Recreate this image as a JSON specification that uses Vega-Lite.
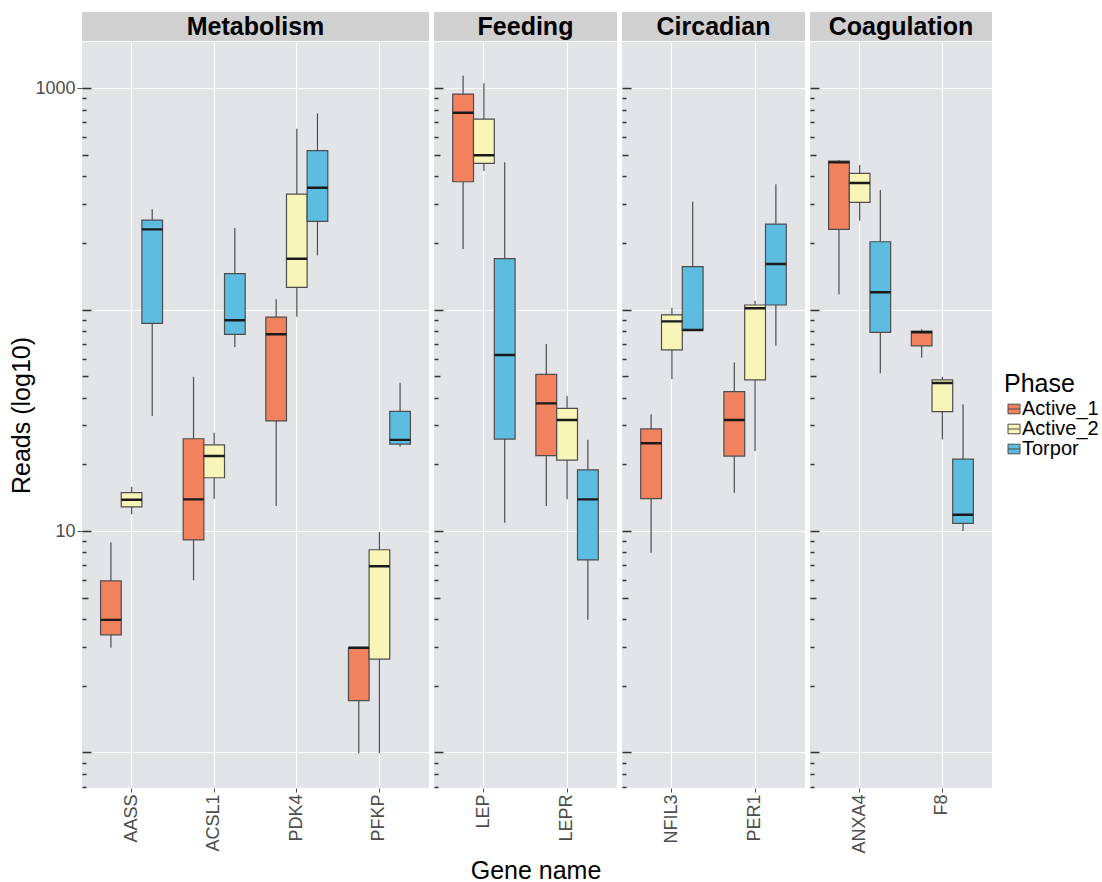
{
  "$schema": "https://vega.github.io/schema/vega-lite/v6.json",
  "autosize": {"type": "pad"},
  "padding": {"left": 9, "top": 12, "right": 0, "bottom": 0},
  "background": "white",
  "datasets": {
    "strips": [
      {"Category": "Metabolism"},
      {"Category": "Feeding"},
      {"Category": "Circadian"},
      {"Category": "Coagulation"}
    ],
    "boxes": [
      {"Category": "Metabolism", "Gene": "AASS", "Phase": "Active_1", "lo": 2.97, "q1": 3.4, "med": 3.97, "q3": 5.95, "hi": 8.89},
      {"Category": "Metabolism", "Gene": "AASS", "Phase": "Active_2", "lo": 11.9, "q1": 12.84, "med": 13.85, "q3": 14.89, "hi": 15.85},
      {"Category": "Metabolism", "Gene": "AASS", "Phase": "Torpor", "lo": 33.05, "q1": 86.6, "med": 230.2, "q3": 253.5, "hi": 283.5},
      {"Category": "Metabolism", "Gene": "ACSL1", "Phase": "Active_1", "lo": 5.99, "q1": 9.11, "med": 13.9, "q3": 26.1, "hi": 49.7},
      {"Category": "Metabolism", "Gene": "ACSL1", "Phase": "Active_2", "lo": 13.95, "q1": 17.4, "med": 21.8, "q3": 24.5, "hi": 27.8},
      {"Category": "Metabolism", "Gene": "ACSL1", "Phase": "Torpor", "lo": 67.7, "q1": 77.3, "med": 89.4, "q3": 145.1, "hi": 233.3},
      {"Category": "Metabolism", "Gene": "PDK4", "Phase": "Active_1", "lo": 12.97, "q1": 31.4, "med": 77.3, "q3": 92.5, "hi": 111.2},
      {"Category": "Metabolism", "Gene": "PDK4", "Phase": "Active_2", "lo": 92.8, "q1": 126, "med": 169.6, "q3": 332.2, "hi": 655.1},
      {"Category": "Metabolism", "Gene": "PDK4", "Phase": "Torpor", "lo": 175.7, "q1": 250.2, "med": 354.7, "q3": 521.2, "hi": 768.7},
      {"Category": "Metabolism", "Gene": "PFKP", "Phase": "Active_1", "lo": 0.992, "q1": 1.714, "med": 2.97, "q3": 2.97, "hi": 2.97},
      {"Category": "Metabolism", "Gene": "PFKP", "Phase": "Active_2", "lo": 0.992, "q1": 2.64, "med": 6.93, "q3": 8.23, "hi": 9.9},
      {"Category": "Metabolism", "Gene": "PFKP", "Phase": "Torpor", "lo": 24.0, "q1": 24.7, "med": 25.8, "q3": 34.7, "hi": 46.7},
      {"Category": "Feeding", "Gene": "LEP", "Phase": "Active_1", "lo": 187.6, "q1": 377.6, "med": 773.5, "q3": 939.5, "hi": 1136.7},
      {"Category": "Feeding", "Gene": "LEP", "Phase": "Active_2", "lo": 421.9, "q1": 457.1, "med": 496.9, "q3": 724.4, "hi": 1050},
      {"Category": "Feeding", "Gene": "LEP", "Phase": "Torpor", "lo": 10.9, "q1": 26.0, "med": 62.3, "q3": 169.6, "hi": 461.9},
      {"Category": "Feeding", "Gene": "LEPR", "Phase": "Active_1", "lo": 12.97, "q1": 21.9, "med": 37.7, "q3": 51.0, "hi": 69.9},
      {"Category": "Feeding", "Gene": "LEPR", "Phase": "Active_2", "lo": 13.9, "q1": 20.9, "med": 31.7, "q3": 35.8, "hi": 40.7},
      {"Category": "Feeding", "Gene": "LEPR", "Phase": "Torpor", "lo": 3.97, "q1": 7.4, "med": 13.9, "q3": 18.9, "hi": 25.8},
      {"Category": "Circadian", "Gene": "NFIL3", "Phase": "Active_1", "lo": 7.98, "q1": 13.99, "med": 24.9, "q3": 28.9, "hi": 33.7},
      {"Category": "Circadian", "Gene": "NFIL3", "Phase": "Active_2", "lo": 48.6, "q1": 65.7, "med": 88.4, "q3": 94.5, "hi": 101.9},
      {"Category": "Circadian", "Gene": "NFIL3", "Phase": "Torpor", "lo": 80.8, "q1": 80.8, "med": 80.8, "q3": 156.1, "hi": 306.7},
      {"Category": "Circadian", "Gene": "PER1", "Phase": "Active_1", "lo": 14.9, "q1": 21.8, "med": 31.7, "q3": 42.6, "hi": 57.7},
      {"Category": "Circadian", "Gene": "PER1", "Phase": "Active_2", "lo": 23.0, "q1": 48.1, "med": 101.3, "q3": 104.8, "hi": 109.6},
      {"Category": "Circadian", "Gene": "PER1", "Phase": "Torpor", "lo": 68.6, "q1": 104.8, "med": 160.5, "q3": 243.2, "hi": 367.4},
      {"Category": "Coagulation", "Gene": "ANXA4", "Phase": "Active_1", "lo": 117.1, "q1": 230.2, "med": 461.9, "q3": 468.1, "hi": 473},
      {"Category": "Coagulation", "Gene": "ANXA4", "Phase": "Active_2", "lo": 251.7, "q1": 304.8, "med": 372.5, "q3": 412, "hi": 449.1},
      {"Category": "Coagulation", "Gene": "ANXA4", "Phase": "Torpor", "lo": 51.5, "q1": 78.9, "med": 119.6, "q3": 202.3, "hi": 346.4},
      {"Category": "Coagulation", "Gene": "F8", "Phase": "Active_1", "lo": 60.6, "q1": 68.6, "med": 78.9, "q3": 80.0, "hi": 81.4},
      {"Category": "Coagulation", "Gene": "F8", "Phase": "Active_2", "lo": 25.9, "q1": 34.6, "med": 46.6, "q3": 48.1, "hi": 49.7},
      {"Category": "Coagulation", "Gene": "F8", "Phase": "Torpor", "lo": 10.0, "q1": 10.83, "med": 11.85, "q3": 21.1, "hi": 37.4}
    ]
  },
  "title": {"text": "Gene name", "orient": "bottom", "anchor": "middle", "frame": "group", "fontSize": 25, "fontWeight": "normal", "color": "black", "offset": 6, "dx": 454},
  "spacing": 4,
  "resolve": {"scale": {"xOffset": "independent"}},
  "hconcat": [
    {
      "vconcat": [
        {"width": 347, "height": 29, "data": {"name": "strips"}, "transform": [{"filter": "datum.Category == 'Metabolism'"}], "view": {"fill": "#D0D0D0", "stroke": null}, "mark": {"type": "text", "fontSize": 25, "fontWeight": "bold", "color": "black"}, "encoding": {"text": {"field": "Category", "type": "nominal"}}},
        {
          "width": 347, "height": 746,
          "data": {"name": "boxes"},
          "transform": [{"filter": "datum.Category == 'Metabolism'"}],
          "view": {"fill": "#E3E4E8", "stroke": null},
          "encoding": {
            "x": {"field": "Gene", "type": "nominal", "title": null, "scale": {"paddingInner": 0, "paddingOuter": 0.1}, "axis": {"labelAngle": 270, "labelFontSize": 18, "labelColor": "#4D4D4D", "labelPadding": 2, "tickColor": "#4D4D4D", "tickSize": 4, "domain": false, "grid": true, "gridColor": "white", "gridWidth": 1.2, "bandPosition": 0.5}},
            "xOffset": {"field": "Phase", "type": "nominal", "scale": {"paddingInner": 0, "paddingOuter": 0.5}}
          },
          "layer": [
            {"mark": {"type": "rule", "color": "#4D4D4D", "strokeWidth": 1.2}, "encoding": {"y": {"field": "lo", "type": "quantitative", "scale": {"type": "log", "domain": [0.6913, 1614], "nice": false}, "axis": {"orient": "left", "values": [1, 10, 100, 1000], "title": "Reads (log10)", "titleFontSize": 25, "titleFontWeight": "normal", "titleColor": "black", "titlePadding": 0, "labelExpr": "datum.value == 10 ? '10' : datum.value == 1000 ? '1000' : ''", "labelFontSize": 18, "labelColor": "#4D4D4D", "labelPadding": 2, "tickSize": 5, "tickColor": {"condition": {"test": "datum.value == 10 || datum.value == 1000", "value": "#555555"}, "value": "transparent"}, "domain": false, "grid": true, "gridColor": "white", "gridWidth": 1.2}}, "y2": {"field": "q1"}}},
            {"mark": {"type": "rule", "color": "#4D4D4D", "strokeWidth": 1.2}, "encoding": {"y": {"field": "q3", "type": "quantitative", "axis": {"orient": "left", "values": [1, 10, 100, 1000], "title": null, "labels": false, "domain": false, "grid": false, "tickSize": -9, "tickColor": "#333333", "tickWidth": 1.5}}, "y2": {"field": "hi"}}},
            {"mark": {"type": "bar", "stroke": "#4D4D4D", "strokeWidth": 1.2}, "encoding": {"y": {"field": "q1", "type": "quantitative", "axis": {"orient": "left", "values": [5, 50, 500], "title": null, "labels": false, "domain": false, "grid": false, "tickSize": -6, "tickColor": "#333333", "tickWidth": 1.5}}, "y2": {"field": "q3"}, "color": {"field": "Phase", "type": "nominal", "title": "Phase", "scale": {"domain": ["Active_1", "Active_2", "Torpor"], "range": ["#F2825E", "#F7F5B7", "#5CBDE0"]}}}},
            {"mark": {"type": "bar", "fill": "transparent", "stroke": "#1A1A1A", "strokeWidth": 2.4}, "encoding": {"y": {"field": "med", "type": "quantitative", "axis": {"orient": "left", "values": [0.7, 0.8, 0.9, 2, 3, 4, 6, 7, 8, 9, 20, 30, 40, 60, 70, 80, 90, 200, 300, 400, 600, 700, 800, 900], "title": null, "labels": false, "domain": false, "grid": false, "tickSize": -4, "tickColor": "#333333", "tickWidth": 1.5}}, "y2": {"field": "med"}}}
          ],
          "resolve": {"axis": {"y": "independent"}}
        }
      ],
      "spacing": 1, "bounds": "flush", "resolve": {"scale": {"xOffset": "independent"}}
    },
    {
      "vconcat": [
        {"width": 183, "height": 29, "data": {"name": "strips"}, "transform": [{"filter": "datum.Category == 'Feeding'"}], "view": {"fill": "#D0D0D0", "stroke": null}, "mark": {"type": "text", "fontSize": 25, "fontWeight": "bold", "color": "black"}, "encoding": {"text": {"field": "Category", "type": "nominal"}}},
        {
          "width": 183, "height": 746,
          "data": {"name": "boxes"},
          "transform": [{"filter": "datum.Category == 'Feeding'"}],
          "view": {"fill": "#E3E4E8", "stroke": null},
          "encoding": {
            "x": {"field": "Gene", "type": "nominal", "title": null, "scale": {"paddingInner": 0, "paddingOuter": 0.1}, "axis": {"labelAngle": 270, "labelFontSize": 18, "labelColor": "#4D4D4D", "labelPadding": 2, "tickColor": "#4D4D4D", "tickSize": 4, "domain": false, "grid": true, "gridColor": "white", "gridWidth": 1.2, "bandPosition": 0.5}},
            "xOffset": {"field": "Phase", "type": "nominal", "scale": {"paddingInner": 0, "paddingOuter": 0.5}}
          },
          "layer": [
            {"mark": {"type": "rule", "color": "#4D4D4D", "strokeWidth": 1.2}, "encoding": {"y": {"field": "lo", "type": "quantitative", "scale": {"type": "log", "domain": [0.6913, 1614], "nice": false}, "axis": {"orient": "left", "values": [1, 10, 100, 1000], "title": null, "labels": false, "ticks": false, "domain": false, "grid": true, "gridColor": "white", "gridWidth": 1.2}}, "y2": {"field": "q1"}}},
            {"mark": {"type": "rule", "color": "#4D4D4D", "strokeWidth": 1.2}, "encoding": {"y": {"field": "q3", "type": "quantitative", "axis": {"orient": "left", "values": [1, 10, 100, 1000], "title": null, "labels": false, "domain": false, "grid": false, "tickSize": -9, "tickColor": "#333333", "tickWidth": 1.5}}, "y2": {"field": "hi"}}},
            {"mark": {"type": "bar", "stroke": "#4D4D4D", "strokeWidth": 1.2}, "encoding": {"y": {"field": "q1", "type": "quantitative", "axis": {"orient": "left", "values": [5, 50, 500], "title": null, "labels": false, "domain": false, "grid": false, "tickSize": -6, "tickColor": "#333333", "tickWidth": 1.5}}, "y2": {"field": "q3"}, "color": {"field": "Phase", "type": "nominal", "title": "Phase", "scale": {"domain": ["Active_1", "Active_2", "Torpor"], "range": ["#F2825E", "#F7F5B7", "#5CBDE0"]}}}},
            {"mark": {"type": "bar", "fill": "transparent", "stroke": "#1A1A1A", "strokeWidth": 2.4}, "encoding": {"y": {"field": "med", "type": "quantitative", "axis": {"orient": "left", "values": [0.7, 0.8, 0.9, 2, 3, 4, 6, 7, 8, 9, 20, 30, 40, 60, 70, 80, 90, 200, 300, 400, 600, 700, 800, 900], "title": null, "labels": false, "domain": false, "grid": false, "tickSize": -4, "tickColor": "#333333", "tickWidth": 1.5}}, "y2": {"field": "med"}}}
          ],
          "resolve": {"axis": {"y": "independent"}}
        }
      ],
      "spacing": 1, "bounds": "flush", "resolve": {"scale": {"xOffset": "independent"}}
    },
    {
      "vconcat": [
        {"width": 183, "height": 29, "data": {"name": "strips"}, "transform": [{"filter": "datum.Category == 'Circadian'"}], "view": {"fill": "#D0D0D0", "stroke": null}, "mark": {"type": "text", "fontSize": 25, "fontWeight": "bold", "color": "black"}, "encoding": {"text": {"field": "Category", "type": "nominal"}}},
        {
          "width": 183, "height": 746,
          "data": {"name": "boxes"},
          "transform": [{"filter": "datum.Category == 'Circadian'"}],
          "view": {"fill": "#E3E4E8", "stroke": null},
          "encoding": {
            "x": {"field": "Gene", "type": "nominal", "title": null, "scale": {"paddingInner": 0, "paddingOuter": 0.1}, "axis": {"labelAngle": 270, "labelFontSize": 18, "labelColor": "#4D4D4D", "labelPadding": 2, "tickColor": "#4D4D4D", "tickSize": 4, "domain": false, "grid": true, "gridColor": "white", "gridWidth": 1.2, "bandPosition": 0.5}},
            "xOffset": {"field": "Phase", "type": "nominal", "scale": {"paddingInner": 0, "paddingOuter": 0.5}}
          },
          "layer": [
            {"mark": {"type": "rule", "color": "#4D4D4D", "strokeWidth": 1.2}, "encoding": {"y": {"field": "lo", "type": "quantitative", "scale": {"type": "log", "domain": [0.6913, 1614], "nice": false}, "axis": {"orient": "left", "values": [1, 10, 100, 1000], "title": null, "labels": false, "ticks": false, "domain": false, "grid": true, "gridColor": "white", "gridWidth": 1.2}}, "y2": {"field": "q1"}}},
            {"mark": {"type": "rule", "color": "#4D4D4D", "strokeWidth": 1.2}, "encoding": {"y": {"field": "q3", "type": "quantitative", "axis": {"orient": "left", "values": [1, 10, 100, 1000], "title": null, "labels": false, "domain": false, "grid": false, "tickSize": -9, "tickColor": "#333333", "tickWidth": 1.5}}, "y2": {"field": "hi"}}},
            {"mark": {"type": "bar", "stroke": "#4D4D4D", "strokeWidth": 1.2}, "encoding": {"y": {"field": "q1", "type": "quantitative", "axis": {"orient": "left", "values": [5, 50, 500], "title": null, "labels": false, "domain": false, "grid": false, "tickSize": -6, "tickColor": "#333333", "tickWidth": 1.5}}, "y2": {"field": "q3"}, "color": {"field": "Phase", "type": "nominal", "title": "Phase", "scale": {"domain": ["Active_1", "Active_2", "Torpor"], "range": ["#F2825E", "#F7F5B7", "#5CBDE0"]}}}},
            {"mark": {"type": "bar", "fill": "transparent", "stroke": "#1A1A1A", "strokeWidth": 2.4}, "encoding": {"y": {"field": "med", "type": "quantitative", "axis": {"orient": "left", "values": [0.7, 0.8, 0.9, 2, 3, 4, 6, 7, 8, 9, 20, 30, 40, 60, 70, 80, 90, 200, 300, 400, 600, 700, 800, 900], "title": null, "labels": false, "domain": false, "grid": false, "tickSize": -4, "tickColor": "#333333", "tickWidth": 1.5}}, "y2": {"field": "med"}}}
          ],
          "resolve": {"axis": {"y": "independent"}}
        }
      ],
      "spacing": 1, "bounds": "flush", "resolve": {"scale": {"xOffset": "independent"}}
    },
    {
      "vconcat": [
        {"width": 182, "height": 29, "data": {"name": "strips"}, "transform": [{"filter": "datum.Category == 'Coagulation'"}], "view": {"fill": "#D0D0D0", "stroke": null}, "mark": {"type": "text", "fontSize": 25, "fontWeight": "bold", "color": "black"}, "encoding": {"text": {"field": "Category", "type": "nominal"}}},
        {
          "width": 182, "height": 746,
          "data": {"name": "boxes"},
          "transform": [{"filter": "datum.Category == 'Coagulation'"}],
          "view": {"fill": "#E3E4E8", "stroke": null},
          "encoding": {
            "x": {"field": "Gene", "type": "nominal", "title": null, "scale": {"paddingInner": 0, "paddingOuter": 0.1}, "axis": {"labelAngle": 270, "labelFontSize": 18, "labelColor": "#4D4D4D", "labelPadding": 2, "tickColor": "#4D4D4D", "tickSize": 4, "domain": false, "grid": true, "gridColor": "white", "gridWidth": 1.2, "bandPosition": 0.5}},
            "xOffset": {"field": "Phase", "type": "nominal", "scale": {"paddingInner": 0, "paddingOuter": 0.5}}
          },
          "layer": [
            {"mark": {"type": "rule", "color": "#4D4D4D", "strokeWidth": 1.2}, "encoding": {"y": {"field": "lo", "type": "quantitative", "scale": {"type": "log", "domain": [0.6913, 1614], "nice": false}, "axis": {"orient": "left", "values": [1, 10, 100, 1000], "title": null, "labels": false, "ticks": false, "domain": false, "grid": true, "gridColor": "white", "gridWidth": 1.2}}, "y2": {"field": "q1"}}},
            {"mark": {"type": "rule", "color": "#4D4D4D", "strokeWidth": 1.2}, "encoding": {"y": {"field": "q3", "type": "quantitative", "axis": {"orient": "left", "values": [1, 10, 100, 1000], "title": null, "labels": false, "domain": false, "grid": false, "tickSize": -9, "tickColor": "#333333", "tickWidth": 1.5}}, "y2": {"field": "hi"}}},
            {"mark": {"type": "bar", "stroke": "#4D4D4D", "strokeWidth": 1.2}, "encoding": {"y": {"field": "q1", "type": "quantitative", "axis": {"orient": "left", "values": [5, 50, 500], "title": null, "labels": false, "domain": false, "grid": false, "tickSize": -6, "tickColor": "#333333", "tickWidth": 1.5}}, "y2": {"field": "q3"}, "color": {"field": "Phase", "type": "nominal", "title": "Phase", "scale": {"domain": ["Active_1", "Active_2", "Torpor"], "range": ["#F2825E", "#F7F5B7", "#5CBDE0"]}}}},
            {"mark": {"type": "bar", "fill": "transparent", "stroke": "#1A1A1A", "strokeWidth": 2.4}, "encoding": {"y": {"field": "med", "type": "quantitative", "axis": {"orient": "left", "values": [0.7, 0.8, 0.9, 2, 3, 4, 6, 7, 8, 9, 20, 30, 40, 60, 70, 80, 90, 200, 300, 400, 600, 700, 800, 900], "title": null, "labels": false, "domain": false, "grid": false, "tickSize": -4, "tickColor": "#333333", "tickWidth": 1.5}}, "y2": {"field": "med"}}}
          ],
          "resolve": {"axis": {"y": "independent"}}
        }
      ],
      "spacing": 1, "bounds": "flush", "resolve": {"scale": {"xOffset": "independent"}}
    }
  ],
  "config": {
    "font": "Liberation Sans",
    "view": {"stroke": null},
    "axis": {"minExtent": 0},
    "legend": {
      "orient": "none",
      "legendX": 922,
      "legendY": 360,
      "titleFontSize": 25,
      "titleFontWeight": "normal",
      "titleColor": "black",
      "titlePadding": 2,
      "labelFontSize": 20,
      "labelColor": "black",
      "labelOffset": -2,
      "symbolType": "M-1,-0.8H1V0.8H-1Z M-1,0H1",
      "symbolSize": 144,
      "symbolStrokeColor": "#4D4D4D",
      "symbolStrokeWidth": 1,
      "rowPadding": -4
    }
  }
}
